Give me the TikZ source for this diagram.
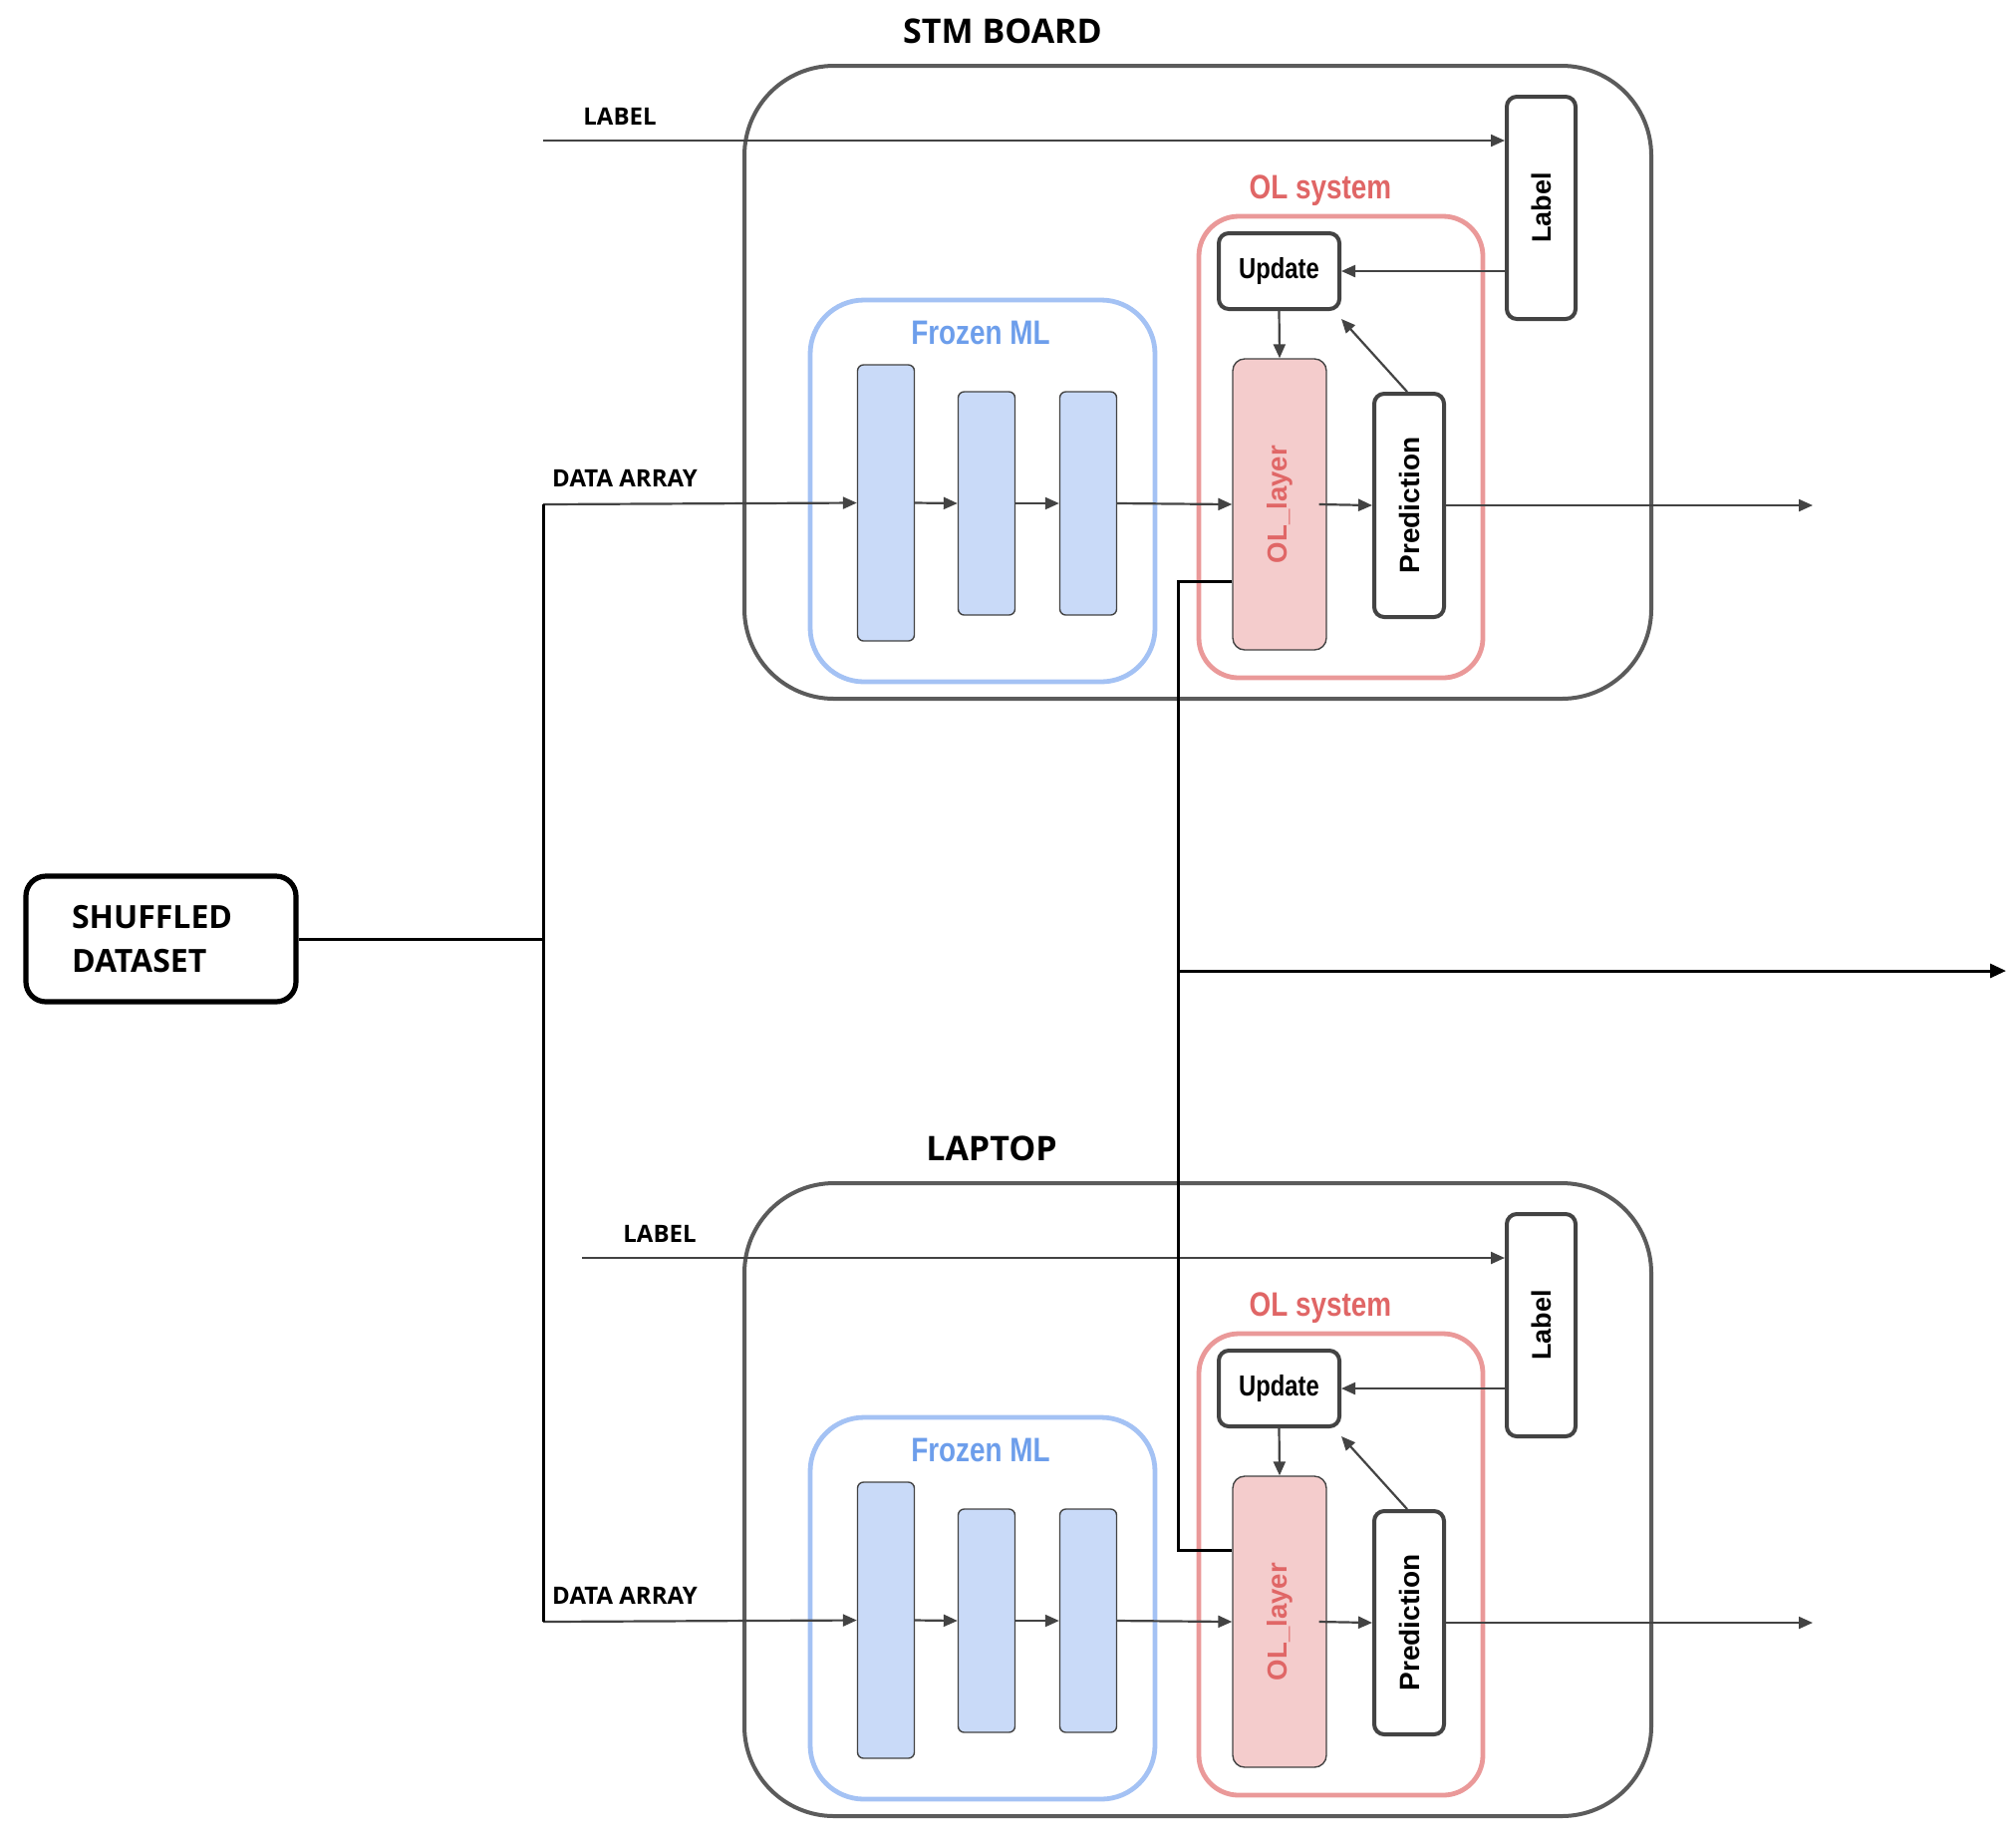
\documentclass[tikz,border=0pt]{standalone}
\usepackage{fontspec}
\usepackage{graphicx}
\setmainfont{Open Sans}
\newfontfamily\arialf{Liberation Sans}
\newfontfamily\narrowf[FakeStretch=0.82]{Liberation Sans}
\usetikzlibrary{arrows.meta}

\definecolor{boardgray}{HTML}{5B5B5B}
\definecolor{boxgray}{HTML}{434343}
\definecolor{olred}{HTML}{E06666}
\definecolor{olframe}{HTML}{EA9999}
\definecolor{olfill}{HTML}{F4CCCC}
\definecolor{mlblue}{HTML}{6D9EEB}
\definecolor{mlframe}{HTML}{A4C2F4}
\definecolor{mlfill}{HTML}{C9DAF8}

\tikzset{
  board/.style={draw=boardgray, line width=2pt, rounded corners=45pt,
    minimum width=455pt, minimum height=317.5pt},
  olsys/.style={draw=olframe, line width=2.4pt, rounded corners=20pt,
    minimum width=142.5pt, minimum height=231.5pt},
  frozen/.style={draw=mlframe, line width=2.4pt, rounded corners=27pt,
    minimum width=173pt, minimum height=191.5pt},
  mllayer/.style={draw=boxgray, line width=0.7pt, fill=mlfill, rounded corners=3pt,
    minimum width=28.5pt},
  ollayer/.style={draw=boxgray, line width=0.7pt, fill=olfill, rounded corners=6pt,
    minimum width=47pt, minimum height=146pt, text=olred,
    font=\arialf\bfseries\fontsize{13.8}{16}\selectfont},
  blockbox/.style={draw=boxgray, line width=2pt, rounded corners=5pt, fill=white},
  title/.style={font=\bfseries\fontsize{17}{20}\selectfont},
  tag/.style={font=\bfseries\fontsize{12}{14}\selectfont},
  systitle/.style={font=\narrowf\bfseries\fontsize{17}{20}\selectfont},
  arr/.style={draw=boxgray, line width=1.1pt, -{Triangle[length=7pt,width=6pt]}},
  feed/.style={draw=black, line width=1.5pt},
}

% One device: board, frozen network, on-line learning system.
% #1 name prefix, #2 vertical offset, #3 title, #4 title x,
% #5 start x of the label line, #6 label tag x
\newcommand\devicesection[6]{%
\begin{scope}[shift={(0,#2)}]
  \node[title] (#1title) at (#4,31) {#3};
  \node[board] (#1board) at (1202,383.5) {};
  \node[frozen] (#1frozen) at (986,492.5) {};
  \node[systitle, text=mlblue] (#1frozenlbl) at (984,334) {Frozen ML};
  \node[olsys] (#1olsys) at (1345.5,448.5) {};
  \node[systitle, text=olred] (#1olsyslbl) at (1325,191) {OL system};
  \node[mllayer, minimum height=138.5pt] (#1ba) at (889,504.5) {};
  \node[mllayer, minimum height=112pt] (#1bb) at (990,505) {};
  \node[mllayer, minimum height=112pt] (#1bc) at (1092,505) {};
  \node[ollayer] (#1ol) at (1284,506) {\rotatebox{90}{OL\_layer}};
  \node[blockbox, minimum width=35pt, minimum height=112pt,
    font=\arialf\bfseries\fontsize{14}{16}\selectfont] (#1pred) at (1414,507)
    {\rotatebox{90}{Prediction}};
  \node[blockbox, minimum width=60.5pt, minimum height=38pt,
    font=\narrowf\bfseries\fontsize{14.5}{16}\selectfont] (#1upd) at (1283.5,272) {Update};
  \node[blockbox, minimum width=34.5pt, minimum height=111.5pt,
    font=\arialf\bfseries\fontsize{13.5}{16}\selectfont] (#1lab) at (1546.5,208.5)
    {\rotatebox{90}{Label}};
  \node[tag] (#1labtag) at (#6,117) {LABEL};
  \node[tag] (#1datatag) at (627,480) {DATA ARRAY};
  \coordinate (#1lin) at (#5,141);
  \coordinate (#1din) at (545,506);
  \coordinate (#1out) at (1819,507);
  \coordinate (#1fbk) at (1346,320);
  \draw[arr] (#1lin) -- (#1lin -| #1lab.west);
  \draw[arr] (#1din) -- (#1ba.west);
  \draw[arr] (#1ba.east) -- (#1bb.west);
  \draw[arr] (#1bb.east) -- (#1bc.west);
  \draw[arr] (#1bc.east) -- (#1ol.west);
  \draw[arr] ([xshift=-4pt]#1ol.east) -- (#1pred.west);
  \draw[arr] (#1pred.east) -- (#1out);
  \draw[arr] (#1lab.west |- #1upd.east) -- (#1upd.east);
  \draw[arr] (#1upd.south) -- (#1ol.north);
  \draw[arr] ([xshift=-1pt]#1pred.north) -- (#1fbk);
\end{scope}}

\begin{document}
\begin{tikzpicture}[x=0.5pt, y=-0.5pt]
  \useasboundingbox (0,0) rectangle (2023,1844);

  \devicesection{s}{0}{STM BOARD}{1006}{545}{622}
  \devicesection{l}{1121}{LAPTOP}{995}{584}{662}

  % dataset source and its split to both devices
  \node[draw=black, line width=2.6pt, rounded corners=10pt,
    minimum width=135.5pt, minimum height=63pt, align=left,
    font=\bfseries\fontsize{16}{22}\selectfont, text width=89.5pt] (ds) at (161.5,942)
    {SHUFFLED\\DATASET};
  \coordinate (split) at (545,942);
  \draw[feed] (ds.east) -- (split);
  \draw[feed] (sdin) -- (ldin);

  % link between the two OL layers, with its own output
  \coordinate (fbx) at (1182,974);
  \coordinate (fbout) at (2013,974);
  \draw[feed] ([yshift=-38.5pt]sol.west) -| (fbx) |- ([yshift=36pt]lol.west);
  \draw[feed, -{Triangle[length=8pt,width=7pt]}] (fbx) -- (fbout);
\end{tikzpicture}
\end{document}
